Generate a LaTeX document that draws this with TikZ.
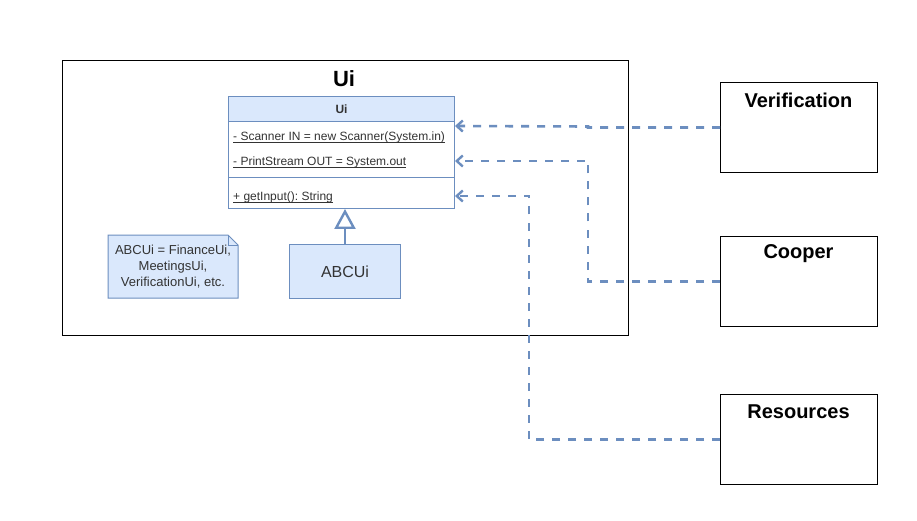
\documentclass[tikz,border=0pt]{standalone}
\usepackage{fontspec}
\setmainfont{Liberation Sans}
\usetikzlibrary{arrows.meta}
\frenchspacing
\definecolor{umlblue}{HTML}{6C8EBF}
\definecolor{umlfill}{HTML}{DAE8FC}
\definecolor{umltext}{HTML}{333333}
\tikzset{
  plainbox/.style={draw=black, line width=1pt, fill=white, anchor=north west, inner sep=0pt},
  clsbox/.style={draw=umlblue, line width=1pt, anchor=north west, inner sep=0pt},
  dep/.style={draw=umlblue, line width=2.6pt, dash pattern=on 8pt off 8pt,
    -{Straight Barb[length=6pt,width=11pt,line width=2.4pt]}},
  inh/.style={draw=umlblue, line width=2.4pt, -{Triangle[open,length=20pt,width=21pt,line width=2.4pt]}},
  attr/.style={anchor=base west, inner sep=0pt, text=umltext, font=\fontsize{12}{14}\selectfont},
  uline/.style={draw=umltext, line width=0.8pt},
  boxtitle/.style={anchor=center, inner sep=0pt, font=\fontsize{20}{24}\selectfont\bfseries}
}
\begin{document}
\begin{tikzpicture}[x=1pt,y=-1pt]
\useasboundingbox (0,0) rectangle (917,521);

% package frame
\node[plainbox, minimum width=566pt, minimum height=275pt] (pkg) at (62,60) {};
\node[anchor=center, inner sep=0pt, font=\fontsize{22}{26}\selectfont\bfseries] (pkgtitle) at (344,79) {Ui};

% class Ui
\node[clsbox, fill=umlfill, minimum width=226pt, minimum height=25pt] (hdr) at (228,96) {};
\node[clsbox, fill=white, minimum width=226pt, minimum height=87pt] (body) at (228,121) {};
\node[inner sep=0pt, text=umltext, font=\fontsize{12}{14}\selectfont\bfseries] (hdrtxt) at (hdr.center) {Ui};
\draw[draw=umlblue, line width=1pt] (228,178) -- (454,178);
\node[attr] (f1) at (233,140.5) {- Scanner IN = new Scanner(System.in)};
\node[attr] (f2) at (233,165.5) {- PrintStream OUT = System.out};
\node[attr] (m1) at (233,200.5) {+ getInput(): String};
\foreach \t in {f1,f2,m1}
  \draw[uline] ([yshift=-2pt]\t.base west) -- ([yshift=-2pt]\t.base east);
\coordinate (a1) at (455,126);
\coordinate (a2) at (455,161);
\coordinate (a3) at (455,196);

% note
\fill[umlfill] (108,235) -- (228,235) -- (238,245) -- (238,298) -- (108,298) -- cycle;
\draw[draw=umlblue, line width=1pt] (108,235) -- (228,235) -- (238,245) -- (238,298) -- (108,298) -- cycle;
\draw[draw=umlblue, line width=1pt] (228,235) -- (228,245) -- (238,245);
\node[align=center, inner sep=0pt, text=umltext, font=\fontsize{13}{16}\selectfont] (note) at (173,267)
  {ABCUi = FinanceUi,\\MeetingsUi,\\VerificationUi, etc.};

% subclass
\node[clsbox, fill=umlfill, minimum width=111pt, minimum height=54pt] (abc) at (289,244) {};
\node[inner sep=0pt, text=umltext, font=\fontsize{16}{19}\selectfont] (abctxt) at (abc.center) {ABCUi};
\draw[inh] (abc.north) -- (abc.north |- body.south);

% collaborators
\node[plainbox, minimum width=157pt, minimum height=90pt] (ver) at (720,82) {};
\node[boxtitle] at (798.5,100) {Verification};
\node[plainbox, minimum width=157pt, minimum height=90pt] (coo) at (720,236) {};
\node[boxtitle] at (798.5,254) {Cooper};
\node[plainbox, minimum width=157pt, minimum height=90pt] (res) at (720,394) {};
\node[boxtitle] at (798.5,412) {Resources};

% dependencies
\draw[dep] (ver.west) -- ++(-132,0) -- ++(0,-1) -- (a1);
\draw[dep] (coo.west) -- ++(-132,0) |- (a2);
\draw[dep] (res.west) -- ++(-191,0) |- (a3);
\end{tikzpicture}
\end{document}
